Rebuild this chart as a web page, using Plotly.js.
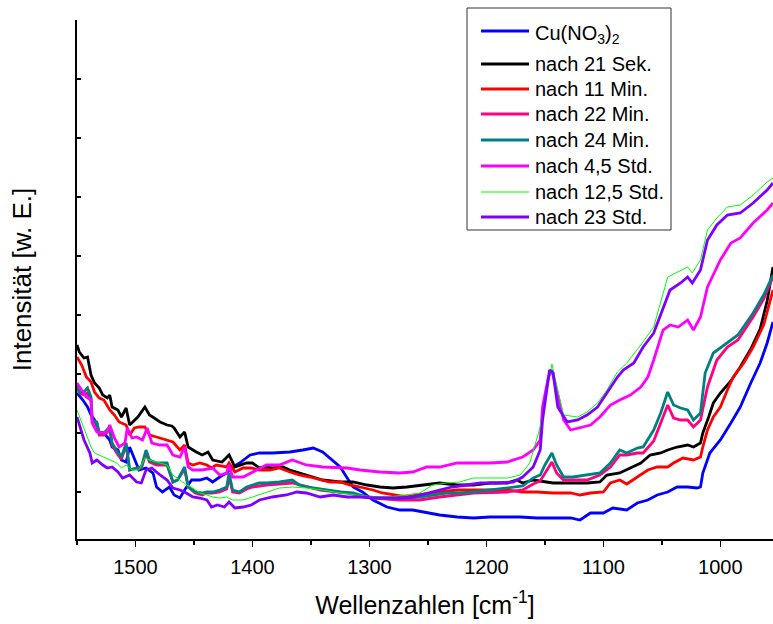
<!DOCTYPE html>
<html>
<head>
<meta charset="utf-8">
<script src="https://cdn.plot.ly/plotly-3.0.1.min.js"></script>
<style>html,body{margin:0;padding:0;background:#fff;}#chart{width:773px;height:624px;}</style>
</head>
<body>
<div id="chart"></div>
<script>
// Wavenumbers [cm^-1] and intensities (arbitrary units)
const blueX = [1550,1545,1541,1538,1535,1531,1527,1522,1520,1515,1512,1508,1505,1501,1497,1491,1485,1482,1477,1471,1467,1462,1458,1452,1445,1439,1434,1428,1422,1417,1411,1402,1394,1383,1368,1357,1348,1340,1334,1325,1319,1314,1306,1297,1285,1274,1263,1251,1240,1225,1211,1197,1182,1171,1157,1143,1128,1120,1111,1100,1092,1080,1071,1062,1054,1045,1037,1028,1020,1017,1015,1009,1000,991,983,974,966,960,955];
const blueY = [146,139,132,124,119,107,106,99,92,89,79,77,92,81,69,71,66,52,47,52,44,41,49,59,59,61,57,62,66,72,76,84,86,86,87,89,91,87,81,72,61,52,47,39,32,29,29,26,24,22,21,22,22,22,21,21,21,19,26,26,31,29,36,39,44,47,52,52,51,52,66,86,99,116,132,156,176,196,217];

const blackX = [1550,1548,1544,1541,1538,1535,1531,1528,1524,1522,1520,1515,1512,1508,1505,1498,1492,1488,1484,1479,1473,1469,1467,1462,1458,1455,1448,1443,1438,1434,1426,1420,1415,1405,1400,1394,1388,1383,1374,1368,1354,1340,1325,1314,1302,1291,1280,1268,1254,1240,1225,1211,1197,1182,1174,1169,1160,1154,1143,1128,1114,1103,1097,1086,1077,1068,1060,1051,1045,1037,1028,1023,1017,1015,1010,1006,1000,991,983,974,966,960,955];
const blackY = [194,187,181,182,164,156,151,144,141,144,132,129,122,131,114,122,132,124,121,117,114,113,111,102,107,92,87,84,87,79,77,84,72,76,76,71,72,71,72,69,64,59,57,57,54,52,51,52,54,56,54,54,56,56,59,56,59,58,56,56,56,57,64,66,71,76,84,86,89,92,94,92,96,106,122,136,146,158,172,190,210,238,272];

const redX = [1550,1546,1542,1538,1535,1531,1527,1522,1518,1514,1508,1505,1501,1497,1492,1488,1482,1473,1468,1462,1458,1455,1451,1445,1439,1435,1431,1422,1420,1415,1408,1401,1394,1385,1377,1368,1360,1351,1342,1334,1325,1317,1308,1297,1289,1277,1268,1259,1248,1240,1225,1211,1197,1182,1169,1157,1143,1128,1120,1111,1100,1094,1086,1080,1071,1062,1054,1045,1040,1032,1023,1017,1015,1011,1006,1000,994,989,980,972,963,955];
const redY = [182,174,162,157,147,141,139,129,124,117,114,104,111,112,112,104,102,99,97,89,94,76,74,76,74,71,74,72,76,67,71,71,69,69,71,67,64,62,59,57,57,54,52,49,46,44,42,44,46,47,49,49,49,49,47,47,46,46,44,46,47,56,59,55,62,69,72,72,76,81,79,82,92,109,122,132,149,162,176,192,214,249];

const pinkX = [1550,1548,1544,1541,1538,1537,1533,1531,1527,1522,1520,1515,1512,1508,1505,1499,1495,1491,1488,1482,1473,1468,1464,1458,1455,1449,1443,1439,1434,1428,1422,1420,1417,1411,1405,1400,1388,1366,1342,1319,1297,1274,1257,1240,1211,1182,1169,1160,1154,1150,1144,1140,1134,1126,1114,1103,1094,1086,1080,1071,1066,1057,1051,1045,1040,1034,1028,1023,1017,1011,1003,994,985,972,963,955];
const pinkY = [152,146,144,146,138,117,115,104,104,109,94,84,80,94,69,71,71,86,77,74,74,57,59,70,52,46,44,46,46,47,50,62,47,46,50,52,54,56,49,46,41,39,39,42,46,47,49,55,58,66,77,66,59,59,59,64,72,84,84,86,86,98,116,134,121,119,119,112,119,152,179,192,199,222,240,262];

const tealX = [1550,1548,1544,1541,1538,1537,1533,1531,1527,1522,1520,1515,1512,1508,1505,1499,1495,1491,1488,1482,1473,1468,1464,1458,1455,1449,1443,1439,1434,1428,1422,1420,1417,1411,1405,1400,1394,1388,1377,1366,1360,1348,1336,1325,1314,1302,1291,1280,1268,1257,1246,1234,1223,1211,1197,1182,1169,1160,1154,1150,1144,1140,1134,1126,1114,1103,1094,1086,1080,1071,1066,1057,1051,1045,1040,1034,1028,1023,1017,1013,1006,994,985,972,963,955];
const tealY = [154,147,147,151,142,119,117,106,106,112,96,86,82,96,69,71,72,89,79,76,76,57,59,72,52,47,46,47,47,49,52,66,49,47,52,54,56,56,57,59,54,51,49,47,46,42,41,41,41,42,44,46,46,47,49,51,53,61,64,74,86,74,62,62,64,66,76,89,86,91,92,109,126,147,134,131,129,119,126,166,186,196,204,226,244,264];

const magX = [1550,1546,1542,1538,1537,1533,1528,1524,1522,1518,1514,1509,1507,1503,1499,1494,1490,1486,1479,1473,1468,1462,1458,1455,1451,1443,1434,1428,1422,1420,1417,1408,1400,1388,1377,1366,1354,1340,1319,1308,1291,1274,1263,1251,1240,1225,1211,1197,1182,1169,1160,1154,1152,1147,1144,1140,1134,1128,1120,1111,1103,1094,1086,1077,1068,1062,1057,1049,1043,1036,1028,1023,1017,1011,1000,991,983,972,960,955];
const magY = [156,149,142,139,116,107,106,107,114,101,92,96,111,101,102,99,111,96,94,94,84,82,92,72,69,69,71,64,66,74,62,62,67,74,74,79,74,72,71,69,67,66,67,72,72,76,76,76,77,82,89,99,132,162,169,149,119,109,111,114,122,134,139,144,152,162,179,209,214,212,219,209,222,252,279,296,301,316,329,336];

const greenX = [1550,1546,1542,1538,1535,1531,1525,1521,1516,1512,1508,1503,1497,1492,1488,1482,1473,1468,1462,1456,1451,1445,1439,1434,1428,1422,1417,1408,1400,1388,1377,1366,1354,1340,1325,1311,1297,1283,1268,1257,1246,1234,1223,1211,1197,1182,1171,1163,1154,1147,1144,1140,1134,1122,1114,1105,1097,1088,1080,1068,1057,1045,1034,1028,1024,1017,1011,1003,994,983,972,960,955];
const greenY = [129,117,106,92,86,84,81,79,76,71,74,69,69,81,79,77,74,64,59,54,51,46,44,42,41,42,39,39,42,47,51,52,51,49,46,44,42,42,44,46,54,56,57,61,61,61,64,76,112,159,175,154,124,122,127,136,149,167,176,194,212,262,269,272,266,279,309,321,332,334,344,357,361];

const violetX = [1550,1548,1544,1539,1537,1533,1528,1524,1520,1515,1511,1505,1499,1495,1491,1486,1479,1473,1468,1462,1458,1451,1445,1439,1435,1430,1424,1420,1415,1408,1401,1394,1383,1371,1362,1354,1342,1331,1319,1308,1297,1285,1274,1263,1251,1240,1229,1217,1205,1191,1177,1169,1160,1154,1152,1146,1143,1139,1131,1122,1114,1105,1097,1088,1083,1074,1066,1057,1043,1034,1028,1024,1017,1011,1003,994,983,972,960,955];
const violetY = [122,114,99,86,76,79,74,71,72,67,61,64,57,56,69,71,64,59,51,49,47,42,41,39,32,34,32,37,31,32,34,39,42,44,47,46,42,44,42,42,41,41,41,42,46,49,52,54,56,56,57,62,72,89,119,169,166,132,117,119,124,132,146,162,169,176,192,206,249,256,262,256,269,299,314,324,326,336,349,356];

const seriesNames = ['Cu(NO<sub>3</sub>)<sub>2</sub>', 'nach 21 Sek.', 'nach 11 Min.', 'nach 22 Min.',
                     'nach 24 Min.', 'nach 4,5 Std.', 'nach 12,5 Std.', 'nach 23 Std.'];
const xTitle = 'Wellenzahlen [cm<sup>-1</sup>]';
const yTitle = 'Intensität [w. E.]';

const seriesX = [blueX, blackX, redX, pinkX, tealX, magX, greenX, violetX];
const seriesY = [blueY, blackY, redY, pinkY, tealY, magY, greenY, violetY];
const colors = ['#0000ff', '#000000', '#ff0000', '#ff0080', '#008080', '#ff00ff', '#00ff00', '#8000ff'];
const widths = [2.8, 2.8, 2.8, 2.8, 2.8, 2.8, 1, 2.8];

const traces = seriesNames.map((n, i) => ({
  type: 'scatter', mode: 'lines', name: n, x: seriesX[i], y: seriesY[i],
  line: {color: colors[i], width: widths[i]}, showlegend: false
}));

// Plot-area geometry (pixels) for the boxed legend
const W = 773, H = 624, ML = 77, MR = 0, MT = 20, MB = 85;
const PW = W - ML - MR, PH = H - MT - MB;
const px = v => (v - ML) / PW;
const py = v => (H - MB - v) / PH;
const rowY = [31, 64, 89, 114, 140, 166, 192, 217];
const textY = [34, 64, 89, 114, 140, 166, 192, 217];

const font = 'Liberation Sans, Arial, sans-serif';
const shapes = [{
  type: 'rect', xref: 'paper', yref: 'paper',
  x0: px(467), x1: px(671), y0: py(230), y1: py(8),
  line: {color: '#333333', width: 1}, fillcolor: '#ffffff', layer: 'above'
}];
const annotations = [];
seriesNames.forEach((n, i) => {
  shapes.push({type: 'line', xref: 'paper', yref: 'paper',
    x0: px(481), x1: px(529), y0: py(rowY[i]), y1: py(rowY[i]),
    line: {color: colors[i], width: widths[i]}, layer: 'above'});
  annotations.push({xref: 'paper', yref: 'paper', x: px(533), y: py(textY[i]),
    xanchor: 'left', yanchor: 'middle', showarrow: false, text: n,
    font: {family: font, size: 20, color: '#000000'}});
});

const layout = {
  width: W, height: H,
  margin: {l: ML, r: MR, t: MT, b: MB},
  paper_bgcolor: '#ffffff', plot_bgcolor: '#ffffff',
  font: {family: font, color: '#000000', size: 20},
  showlegend: false,
  shapes: shapes,
  annotations: annotations,
  xaxis: {
    range: [1550, 955], tick0: 1000, dtick: 100,
    ticks: 'outside', ticklen: 6, tickwidth: 1.5, tickcolor: '#000',
    minor: {dtick: 50, ticks: 'outside', ticklen: 4, tickwidth: 1.5, tickcolor: '#000'},
    showline: true, linewidth: 2, linecolor: '#000',
    showgrid: false, zeroline: false,
    tickfont: {family: font, size: 20},
    ticklabelstandoff: 3,
    title: {text: xTitle, font: {family: font, size: 25}, standoff: 19}
  },
  yaxis: {
    range: [0, 519], tick0: 47, dtick: 59,
    ticks: 'inside', ticklen: 4, tickwidth: 1.5, tickcolor: '#000',
    showticklabels: false,
    showline: true, linewidth: 2, linecolor: '#000',
    showgrid: false, zeroline: false,
    title: {text: yTitle, font: {family: font, size: 26}, standoff: 36}
  }
};

Plotly.newPlot('chart', traces, layout, {displayModeBar: false, staticPlot: true});
</script>
</body>
</html>
